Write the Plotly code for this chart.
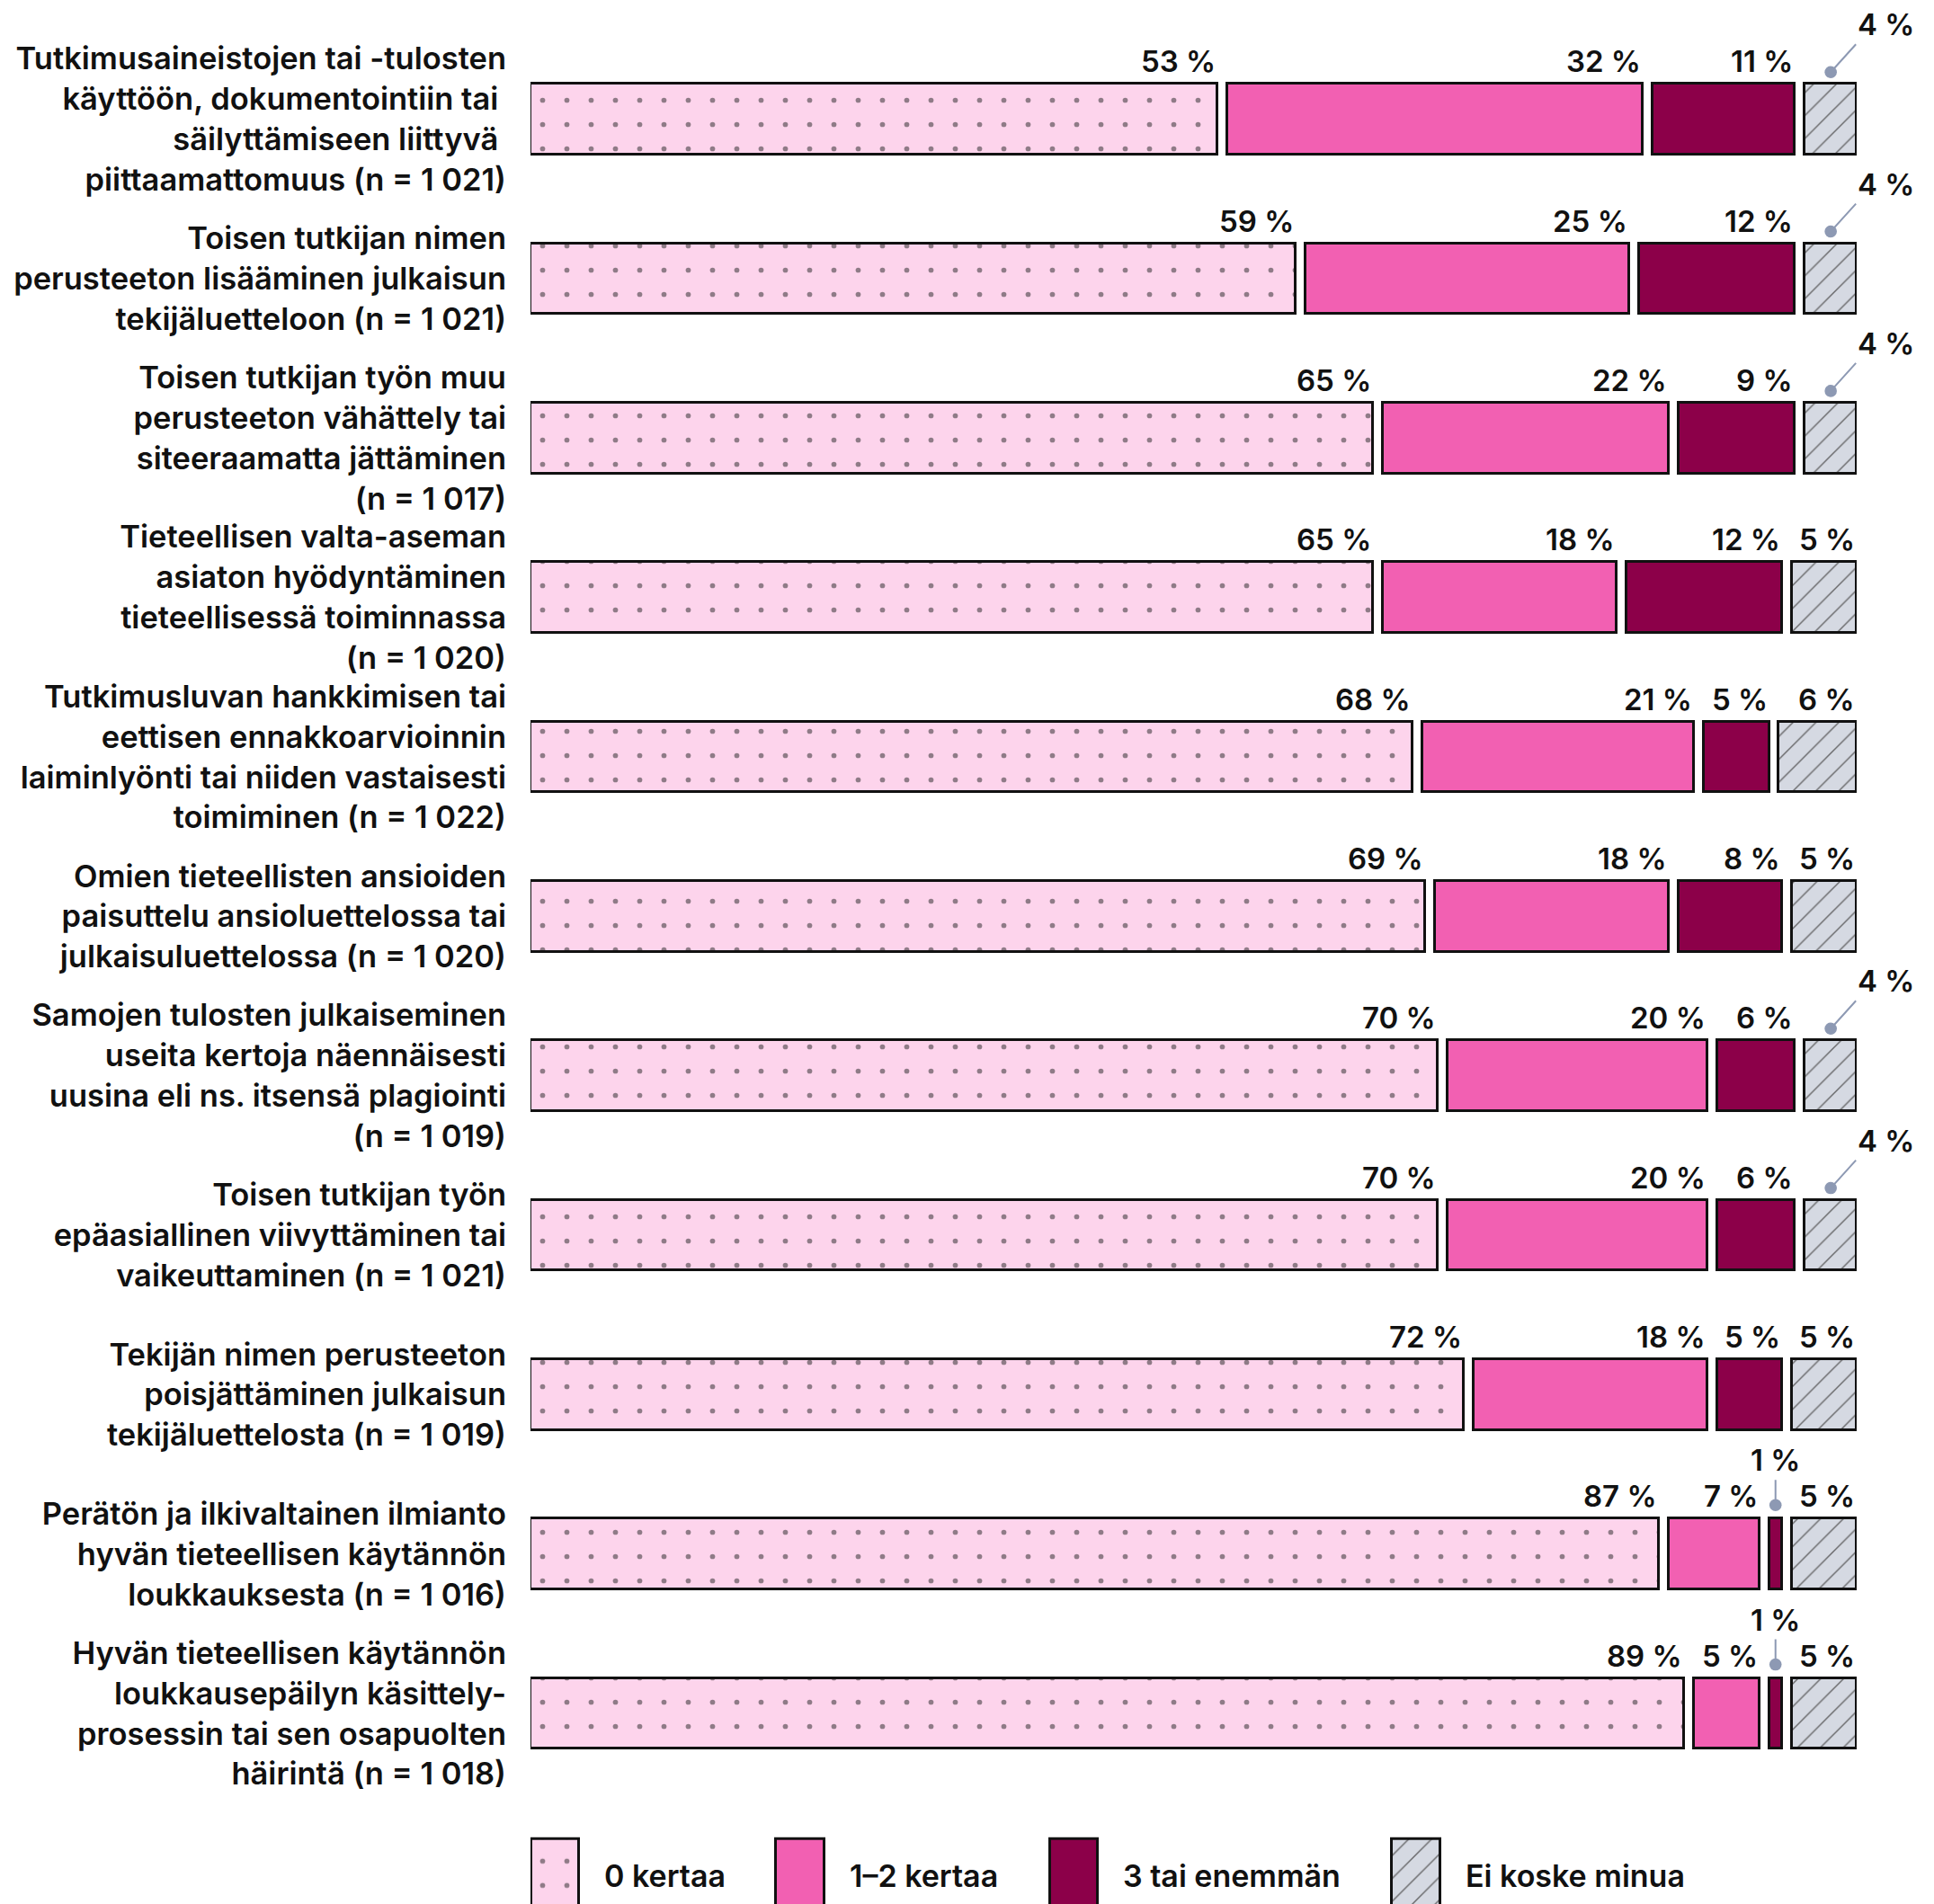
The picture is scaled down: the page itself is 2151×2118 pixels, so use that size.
import numpy as np
import plotly.graph_objects as go

categories = [
    "Tutkimusaineistojen tai -tulosten<br>käyttöön, dokumentointiin tai\u00a0<br>säilyttämiseen liittyvä\u00a0<br>piittaamattomuus (n = 1\u00a0021)",
    "Toisen tutkijan nimen<br>perusteeton lisääminen julkaisun<br>tekijäluetteloon (n = 1\u00a0021)",
    "Toisen tutkijan työn muu<br>perusteeton vähättely tai<br>siteeraamatta jättäminen<br>(n = 1\u00a0017)",
    "Tieteellisen valta-aseman<br>asiaton hyödyntäminen<br>tieteellisessä toiminnassa<br>(n = 1\u00a0020)",
    "Tutkimusluvan hankkimisen tai<br>eettisen ennakkoarvioinnin<br>laiminlyönti tai niiden vastaisesti<br>toimiminen (n = 1\u00a0022)",
    "Omien tieteellisten ansioiden<br>paisuttelu ansioluettelossa tai<br>julkaisuluettelossa (n = 1\u00a0020)",
    "Samojen tulosten julkaiseminen<br>useita kertoja näennäisesti<br>uusina eli ns. itsensä plagiointi<br>(n = 1\u00a0019)",
    "Toisen tutkijan työn<br>epäasiallinen viivyttäminen tai<br>vaikeuttaminen (n = 1\u00a0021)",
    "Tekijän nimen perusteeton<br>poisjättäminen julkaisun<br>tekijäluettelosta (n = 1\u00a0019)",
    "Perätön ja ilkivaltainen ilmianto<br>hyvän tieteellisen käytännön<br>loukkauksesta (n = 1\u00a0016)",
    "Hyvän tieteellisen käytännön<br>loukkausepäilyn käsittely-<br>prosessin tai sen osapuolten<br>häirintä (n = 1\u00a0018)",
]

zero_times = [53, 59, 65, 65, 68, 69, 70, 70, 72, 87, 89]
one_two_times = [32, 25, 22, 18, 21, 18, 20, 20, 18, 7, 5]
three_or_more = [11, 12, 9, 12, 5, 8, 6, 6, 5, 1, 1]
not_applicable = [4, 4, 4, 5, 6, 5, 4, 4, 5, 5, 5]

series_names = ["0 kertaa", "1–2 kertaa", "3 tai enemmän", "Ei koske minua"]

# styling / layout
colors = ["#fdd4ec", "#f260b2", "#8c0049", "#d5d9e2"]
patterns = [
    dict(shape=".", bgcolor="#fdd4ec", fgcolor="#222222", size=27, solidity=0.035),
    None,
    None,
    dict(shape="/", bgcolor="#d5d9e2", fgcolor="#555555", size=18, solidity=0.08, fgopacity=0.85),
]
FONT = "Inter"
WEIGHT = 600
GAP = 0.76
BAR_W = 0.445
W, H = 2143, 2110
T = 36
X_MAX = 100 + 3 * GAP
LEGEND_X = [1.9, 20.8, 41.9, 68.3]
LEGEND_W = 3.7

values = np.array([zero_times, one_two_times, three_or_more, not_applicable], dtype=float)
rows = np.arange(len(categories))
starts = np.vstack([np.zeros(len(categories)), np.cumsum(values, axis=0)[:-1]]) + GAP * np.arange(4)[:, None]

fig = go.Figure()
for k, name in enumerate(series_names):
    marker = dict(color=colors[k], line=dict(color="#111111", width=3))
    if patterns[k]:
        marker["pattern"] = patterns[k]
    fig.add_trace(go.Bar(
        x=values[k], y=rows, base=starts[k], orientation="h", width=BAR_W,
        marker=marker, name=name, showlegend=False, hoverinfo="skip",
    ))
    # legend key drawn on a small auxiliary axis
    fig.add_trace(go.Bar(
        x=[LEGEND_X[k]], y=[84], base=[-10], width=LEGEND_W,
        marker=marker, xaxis="x2", yaxis="y2", showlegend=False, hoverinfo="skip",
    ))

annotations = []
label_font = dict(family=FONT, size=33, color="#111111", weight=WEIGHT)
for k in range(4):
    for i in rows:
        v = int(values[k, i])
        txt = f"{v}\u00a0%"
        top = i - BAR_W / 2
        if v <= 1:
            annotations.append(dict(
                x=starts[k, i] + v / 2, y=top, xref="x", yref="y", text=txt,
                showarrow=True, ax=0, ay=-28, axref="pixel", ayref="pixel",
                xanchor="center", yanchor="bottom", yshift=15,
                arrowhead=6, arrowsize=1.7, arrowwidth=2, arrowcolor="#8d99b3",
                font=label_font,
            ))
        elif v <= 4:
            annotations.append(dict(
                x=starts[k, i] + v / 2, y=top, xref="x", yref="y", text=txt,
                showarrow=True, ax=28, ay=-31, axref="pixel", ayref="pixel",
                xanchor="left", yanchor="bottom", yshift=13,
                arrowhead=6, arrowsize=1.7, arrowwidth=2, arrowcolor="#8d99b3",
                font=label_font,
            ))
        else:
            annotations.append(dict(
                x=starts[k, i] + v, y=top, xref="x", yref="y", text=txt,
                showarrow=False, xanchor="right", yanchor="bottom", yshift=3,
                font=label_font,
            ))

for k, name in enumerate(series_names):
    annotations.append(dict(
        x=LEGEND_X[k] + LEGEND_W / 2, y=0.015, xref="x2", yref="paper", text=name,
        showarrow=False, xanchor="left", yanchor="middle", xshift=26,
        font=dict(family=FONT, size=34, color="#111111", weight=WEIGHT),
    ))

main_bottom = (H - (1994.7 - 8)) / (H - T)
legend_top = (H - (2036 - 8)) / (H - T)

fig.update_layout(
    width=W, height=H,
    margin=dict(l=582, r=W - 582 - int(X_MAX * 14.43), t=T, b=0),
    paper_bgcolor="white", plot_bgcolor="white",
    bargap=0, barmode="overlay",
    font=dict(family=FONT, color="#111111"),
    xaxis=dict(range=[0, X_MAX], visible=False, domain=[0, 1]),
    yaxis=dict(
        range=[len(categories) - 0.5, -0.5], domain=[main_bottom, 1],
        tickvals=rows, ticktext=categories, showgrid=False, zeroline=False,
        ticks="", ticklabelstandoff=26,
        tickfont=dict(family=FONT, size=34.5, color="#111111", weight=WEIGHT),
    ),
    xaxis2=dict(range=[0, X_MAX], visible=False, anchor="y2", domain=[0, 1]),
    yaxis2=dict(range=[0, 90], visible=False, domain=[0, legend_top + 0.003], anchor="x2"),
    annotations=annotations,
    showlegend=False,
)

fig.write_html("out.html")
